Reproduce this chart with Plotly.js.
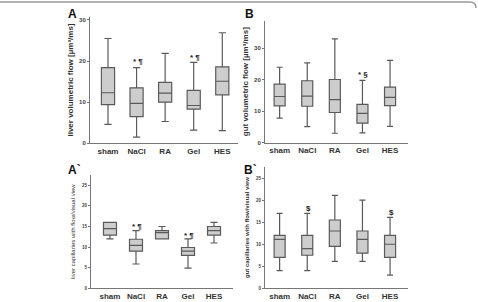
<!DOCTYPE html>
<html>
<head>
<meta charset="utf-8">
<script src="https://cdn.plot.ly/plotly-3.0.1.min.js"></script>
<style>html,body{margin:0;padding:0;background:#fff;}#chart{width:478px;height:302px;}</style>
</head>
<body>
<div id="chart"></div>
<script>
const groups = ['sham', 'NaCl', 'RA', 'Gel', 'HES'];

// Panel A: liver volumetric flow
const liverFlowLow = [4.6, 1.5, 5.3, 3.2, 3.1];
const liverFlowQ1 = [9.4, 6.5, 10.0, 8.3, 11.8];
const liverFlowMed = [12.3, 9.7, 12.2, 9.2, 15.1];
const liverFlowQ3 = [18.4, 13.5, 14.8, 12.9, 18.6];
const liverFlowHigh = [25.5, 18.4, 21.9, 19.7, 26.9];

// Panel B: gut volumetric flow
const gutFlowLow = [7.8, 5.1, 3.0, 3.1, 5.2];
const gutFlowQ1 = [11.7, 11.6, 9.6, 6.2, 11.8];
const gutFlowMed = [14.7, 14.8, 13.7, 9.3, 14.4];
const gutFlowQ3 = [18.6, 19.7, 20.1, 12.2, 17.7];
const gutFlowHigh = [24.0, 25.4, 33.0, 19.8, 26.2];

// Panel A`: liver capillaries with flow / visual view
const liverCapLow = [12.0, 5.9, 12.0, 4.9, 11.0];
const liverCapQ1 = [12.9, 9.0, 12.0, 8.0, 12.9];
const liverCapMed = [14.5, 10.4, 13.5, 9.0, 14.0];
const liverCapQ3 = [16.0, 11.9, 14.0, 9.9, 15.0];
const liverCapHigh = [16.0, 14.0, 15.0, 12.0, 16.0];

// Panel B`: gut capillaries with flow / visual view
const gutCapLow = [4.0, 4.0, 6.1, 6.1, 3.0];
const gutCapQ1 = [7.0, 7.5, 9.5, 8.0, 7.0];
const gutCapMed = [11.1, 9.0, 13.0, 11.1, 10.0];
const gutCapQ3 = [12.0, 12.0, 15.5, 13.0, 12.0];
const gutCapHigh = [17.0, 17.0, 21.1, 20.0, 16.1];

// Significance markers
const sigA = [{g: 'NaCl', y: 19.9, t: '* ¶'}, {g: 'Gel', y: 20.9, t: '* ¶'}];
const sigB = [{g: 'Gel', y: 21.6, t: '* §'}];
const sigA2 = [{g: 'NaCl', y: 15.0, t: '* ¶'}, {g: 'Gel', y: 12.9, t: '* ¶'}];
const sigB2 = [{g: 'NaCl', y: 18.2, t: '$'}, {g: 'HES', y: 17.1, t: '$'}];

const FONT = 'Liberation Sans, Arial, sans-serif';
const fill = '#cdcdcd';
const edge = '#5a5a5a';

function boxTrace(lo, q1, med, q3, hi, xa, ya, w) {
  return {
    type: 'box', x: groups, lowerfence: lo, q1: q1, median: med, q3: q3, upperfence: hi,
    xaxis: xa, yaxis: ya, width: w, whiskerwidth: 0.55,
    fillcolor: fill, line: {color: edge, width: 1.2}, boxpoints: false,
    hoverinfo: 'skip', showlegend: false
  };
}

const data = [
  boxTrace(liverFlowLow, liverFlowQ1, liverFlowMed, liverFlowQ3, liverFlowHigh, 'x', 'y', 0.46),
  boxTrace(gutFlowLow, gutFlowQ1, gutFlowMed, gutFlowQ3, gutFlowHigh, 'x2', 'y2', 0.4),
  boxTrace(liverCapLow, liverCapQ1, liverCapMed, liverCapQ3, liverCapHigh, 'x3', 'y3', 0.5),
  boxTrace(gutCapLow, gutCapQ1, gutCapMed, gutCapQ3, gutCapHigh, 'x4', 'y4', 0.4)
];

function xAxis(dom, anchor, range) {
  return {
    domain: dom, anchor: anchor, type: 'category', range: range,
    showline: true, linecolor: '#777', linewidth: 1, ticks: '', showgrid: false, zeroline: false,
    tickfont: {family: FONT, size: 8, color: '#333', weight: 'bold'}, ticklen: 0
  };
}
function yAxis(dom, anchor, range, dtick, title, tsize, tfsize, bold, standoff) {
  return {
    domain: dom, anchor: anchor, range: range, dtick: dtick, tick0: 0,
    showline: true, linecolor: '#777', linewidth: 1, ticks: 'outside', ticklen: 2, tickcolor: '#777',
    showgrid: false, zeroline: false,
    tickfont: {family: FONT, size: tfsize, color: '#444', weight: 'bold'},
    title: {text: title, standoff: standoff, font: {family: FONT, size: tsize, color: '#333', weight: bold ? 'bold' : 'normal'}}
  };
}

const W = 478, H = 302;
const px = v => v / W, py = v => 1 - v / H;

const layout = {
  width: W, height: H, margin: {l: 0, r: 0, t: 0, b: 0},
  paper_bgcolor: '#fff', plot_bgcolor: '#fff', showlegend: false,
  xaxis: xAxis([px(90), px(238)], 'y', [-0.63, 4.55]),
  yaxis: yAxis([py(143.3), py(16.7)], 'x', [0, 30.8], 10, 'liver volumetric flow [µm³/ms]', 8, 6, true, 4),
  xaxis2: xAxis([px(265), px(408)], 'y2', [-0.53, 4.65]),
  yaxis2: yAxis([py(142.7), py(20.7)], 'x2', [0, 38.8], 10, 'gut volumetric flow [µm³/ms]', 8, 6, true, 4),
  xaxis3: xAxis([px(91), px(233)], 'y3', [-0.73, 4.73]),
  yaxis3: yAxis([py(288.3), py(175)], 'x3', [0, 27.5], 5, 'liver capillaries with flow/visual view', 6, 4.5, false, 5),
  xaxis4: xAxis([px(265), px(408)], 'y4', [-0.53, 4.65]),
  yaxis4: yAxis([py(288.3), py(166.7)], 'x4', [0, 27.6], 5, 'gut capillaries with flow/visual view', 6, 4.5, true, 5),
  annotations: [],
  shapes: [
    {type: 'path', xref: 'paper', yref: 'paper',
     path: 'M 0,' + py(2) + ' L ' + px(470) + ',' + py(2) + ' Q ' + px(476) + ',' + py(2) + ' ' + px(476) + ',' + py(8),
     line: {color: '#9a9a9a', width: 1.5}}
  ]
};

const panelLabels = [
  {t: 'A', x: 72, y: 14}, {t: 'B', x: 249, y: 14},
  {t: 'A`', x: 74, y: 170}, {t: 'B`', x: 251, y: 170}
];
panelLabels.forEach(p => layout.annotations.push({
  text: p.t, xref: 'paper', yref: 'paper', x: px(p.x), y: py(p.y), xanchor: 'center', yanchor: 'middle',
  showarrow: false, font: {family: FONT, size: 12, color: '#111', weight: 'bold'}
}));

function addSig(list, xa, ya) {
  list.forEach(s => layout.annotations.push({
    text: s.t, xref: xa, yref: ya, x: s.g, y: s.y, xanchor: 'center', yanchor: 'middle', xshift: 1,
    showarrow: false, font: {family: FONT, size: 8, color: '#222', weight: 'bold'}
  }));
}
addSig(sigA, 'x', 'y');
addSig(sigB, 'x2', 'y2');
addSig(sigA2, 'x3', 'y3');
addSig(sigB2, 'x4', 'y4');

Plotly.newPlot('chart', data, layout, {displayModeBar: false, staticPlot: true});
</script>
</body>
</html>
